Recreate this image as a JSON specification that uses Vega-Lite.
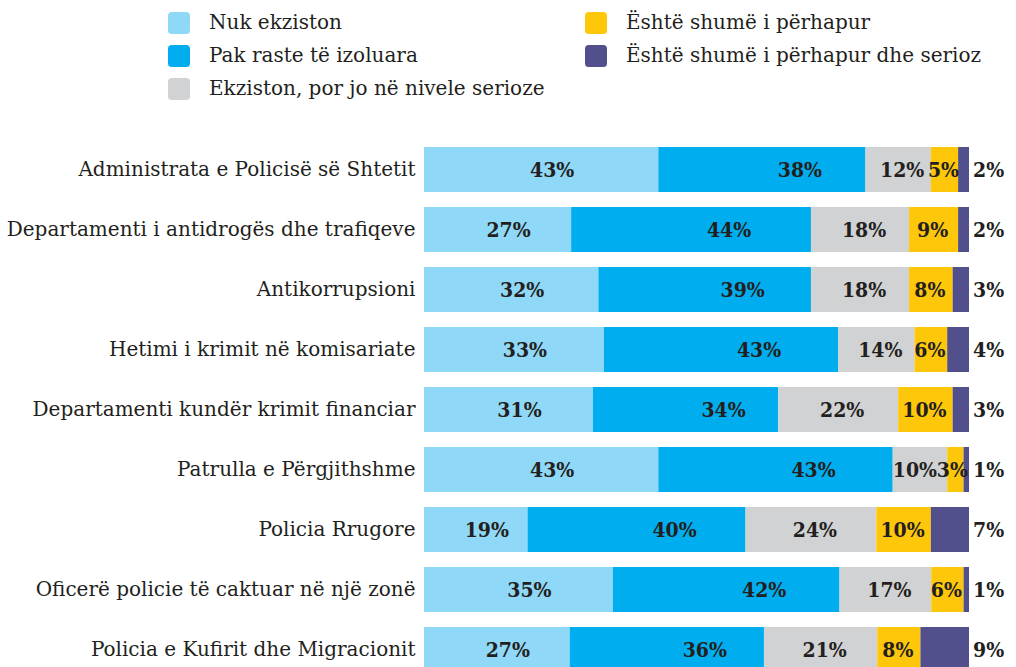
{
  "$schema": "https://vega.github.io/schema/vega-lite/v6.json",
  "autosize": {"type": "none"},
  "padding": {"left": 424, "top": 147, "right": 47, "bottom": 0},
  "width": 545,
  "height": 525,
  "background": "white",
  "config": {"view": {"stroke": null}, "font": "DejaVu Serif"},
  "data": {"values": [
    {"cat": "Administrata e Policisë së Shtetit", "level": "Nuk ekziston", "o": 1, "v": 0.43},
    {"cat": "Administrata e Policisë së Shtetit", "level": "Pak raste të izoluara", "o": 2, "v": 0.38},
    {"cat": "Administrata e Policisë së Shtetit", "level": "Ekziston, por jo në nivele serioze", "o": 3, "v": 0.12},
    {"cat": "Administrata e Policisë së Shtetit", "level": "Është shumë i përhapur", "o": 4, "v": 0.05},
    {"cat": "Administrata e Policisë së Shtetit", "level": "Është shumë i përhapur dhe serioz", "o": 5, "v": 0.02},
    {"cat": "Departamenti i antidrogës dhe trafiqeve", "level": "Nuk ekziston", "o": 1, "v": 0.27},
    {"cat": "Departamenti i antidrogës dhe trafiqeve", "level": "Pak raste të izoluara", "o": 2, "v": 0.44},
    {"cat": "Departamenti i antidrogës dhe trafiqeve", "level": "Ekziston, por jo në nivele serioze", "o": 3, "v": 0.18},
    {"cat": "Departamenti i antidrogës dhe trafiqeve", "level": "Është shumë i përhapur", "o": 4, "v": 0.09},
    {"cat": "Departamenti i antidrogës dhe trafiqeve", "level": "Është shumë i përhapur dhe serioz", "o": 5, "v": 0.02},
    {"cat": "Antikorrupsioni", "level": "Nuk ekziston", "o": 1, "v": 0.32},
    {"cat": "Antikorrupsioni", "level": "Pak raste të izoluara", "o": 2, "v": 0.39},
    {"cat": "Antikorrupsioni", "level": "Ekziston, por jo në nivele serioze", "o": 3, "v": 0.18},
    {"cat": "Antikorrupsioni", "level": "Është shumë i përhapur", "o": 4, "v": 0.08},
    {"cat": "Antikorrupsioni", "level": "Është shumë i përhapur dhe serioz", "o": 5, "v": 0.03},
    {"cat": "Hetimi i krimit në komisariate", "level": "Nuk ekziston", "o": 1, "v": 0.33},
    {"cat": "Hetimi i krimit në komisariate", "level": "Pak raste të izoluara", "o": 2, "v": 0.43},
    {"cat": "Hetimi i krimit në komisariate", "level": "Ekziston, por jo në nivele serioze", "o": 3, "v": 0.14},
    {"cat": "Hetimi i krimit në komisariate", "level": "Është shumë i përhapur", "o": 4, "v": 0.06},
    {"cat": "Hetimi i krimit në komisariate", "level": "Është shumë i përhapur dhe serioz", "o": 5, "v": 0.04},
    {"cat": "Departamenti kundër krimit financiar", "level": "Nuk ekziston", "o": 1, "v": 0.31},
    {"cat": "Departamenti kundër krimit financiar", "level": "Pak raste të izoluara", "o": 2, "v": 0.34},
    {"cat": "Departamenti kundër krimit financiar", "level": "Ekziston, por jo në nivele serioze", "o": 3, "v": 0.22},
    {"cat": "Departamenti kundër krimit financiar", "level": "Është shumë i përhapur", "o": 4, "v": 0.10},
    {"cat": "Departamenti kundër krimit financiar", "level": "Është shumë i përhapur dhe serioz", "o": 5, "v": 0.03},
    {"cat": "Patrulla e Përgjithshme", "level": "Nuk ekziston", "o": 1, "v": 0.43},
    {"cat": "Patrulla e Përgjithshme", "level": "Pak raste të izoluara", "o": 2, "v": 0.43},
    {"cat": "Patrulla e Përgjithshme", "level": "Ekziston, por jo në nivele serioze", "o": 3, "v": 0.10},
    {"cat": "Patrulla e Përgjithshme", "level": "Është shumë i përhapur", "o": 4, "v": 0.03},
    {"cat": "Patrulla e Përgjithshme", "level": "Është shumë i përhapur dhe serioz", "o": 5, "v": 0.01},
    {"cat": "Policia Rrugore", "level": "Nuk ekziston", "o": 1, "v": 0.19},
    {"cat": "Policia Rrugore", "level": "Pak raste të izoluara", "o": 2, "v": 0.40},
    {"cat": "Policia Rrugore", "level": "Ekziston, por jo në nivele serioze", "o": 3, "v": 0.24},
    {"cat": "Policia Rrugore", "level": "Është shumë i përhapur", "o": 4, "v": 0.10},
    {"cat": "Policia Rrugore", "level": "Është shumë i përhapur dhe serioz", "o": 5, "v": 0.07},
    {"cat": "Oficerë policie të caktuar në një zonë", "level": "Nuk ekziston", "o": 1, "v": 0.35},
    {"cat": "Oficerë policie të caktuar në një zonë", "level": "Pak raste të izoluara", "o": 2, "v": 0.42},
    {"cat": "Oficerë policie të caktuar në një zonë", "level": "Ekziston, por jo në nivele serioze", "o": 3, "v": 0.17},
    {"cat": "Oficerë policie të caktuar në një zonë", "level": "Është shumë i përhapur", "o": 4, "v": 0.06},
    {"cat": "Oficerë policie të caktuar në një zonë", "level": "Është shumë i përhapur dhe serioz", "o": 5, "v": 0.01},
    {"cat": "Policia e Kufirit dhe Migracionit", "level": "Nuk ekziston", "o": 1, "v": 0.27},
    {"cat": "Policia e Kufirit dhe Migracionit", "level": "Pak raste të izoluara", "o": 2, "v": 0.36},
    {"cat": "Policia e Kufirit dhe Migracionit", "level": "Ekziston, por jo në nivele serioze", "o": 3, "v": 0.21},
    {"cat": "Policia e Kufirit dhe Migracionit", "level": "Është shumë i përhapur", "o": 4, "v": 0.08},
    {"cat": "Policia e Kufirit dhe Migracionit", "level": "Është shumë i përhapur dhe serioz", "o": 5, "v": 0.09}
  ]},
  "encoding": {
    "y": {"field": "cat", "type": "nominal", "sort": null,
      "scale": {"paddingInner": 0.25, "paddingOuter": 0},
      "axis": {"title": null, "domain": false, "ticks": false, "labelPadding": 9, "labelLimit": 600,
        "labelFont": "DejaVu Serif", "labelFontSize": 20, "labelColor": "#231f20"}},
    "x": {"field": "v", "type": "quantitative", "stack": "normalize", "axis": null},
    "order": {"field": "o"}
  },
  "layer": [
    {"mark": {"type": "bar"},
     "encoding": {
       "color": {"field": "level", "type": "nominal",
         "scale": {"domain": ["Nuk ekziston", "Pak raste të izoluara", "Ekziston, por jo në nivele serioze", "Është shumë i përhapur", "Është shumë i përhapur dhe serioz"],
                   "range": ["#8fd8f7", "#00aeef", "#d1d2d4", "#ffc709", "#514f8c"]},
         "legend": {"title": null, "orient": "none", "legendX": -256, "legendY": -135, "columns": 2,
           "columnPadding": 40, "rowPadding": 11, "padding": 0, "symbolType": "M-0.65,-1L0.65,-1Q1,-1,1,-0.65L1,0.65Q1,1,0.65,1L-0.65,1Q-1,1,-1,0.65L-1,-0.65Q-1,-1,-0.65,-1Z",
           "symbolSize": 484, "symbolStrokeWidth": 0, "labelOffset": 19, "labelLimit": 600,
           "labelFont": "DejaVu Serif", "labelFontSize": 20, "labelColor": "#231f20"}}
     }},
    {"mark": {"type": "text", "font": "DejaVu Serif Condensed", "fontWeight": "bold", "fontSize": 21, "color": "#231f20", "dy": 1,
       "dx": {"expr": "datum.o == 1 ? 11 : datum.o == 2 ? 38 : datum.o == 3 ? (datum.v < 0.12 ? -5 : 4) : (datum.v < 0.04 ? -3 : -1)"}},
     "encoding": {"x": {"field": "v", "type": "quantitative", "stack": "normalize", "bandPosition": 0.5},
       "text": {"condition": {"test": "datum.o == 5", "value": ""}, "field": "v", "format": ".0%"}}},
    {"transform": [{"filter": "datum.o == 5"}],
     "mark": {"type": "text", "font": "DejaVu Serif Condensed", "fontWeight": "bold", "fontSize": 21, "color": "#231f20", "align": "left", "dx": 4, "dy": 1},
     "encoding": {"x": {"field": "v", "type": "quantitative", "stack": "normalize", "bandPosition": 1}, "text": {"field": "v", "format": ".0%"}}}
  ]
}
